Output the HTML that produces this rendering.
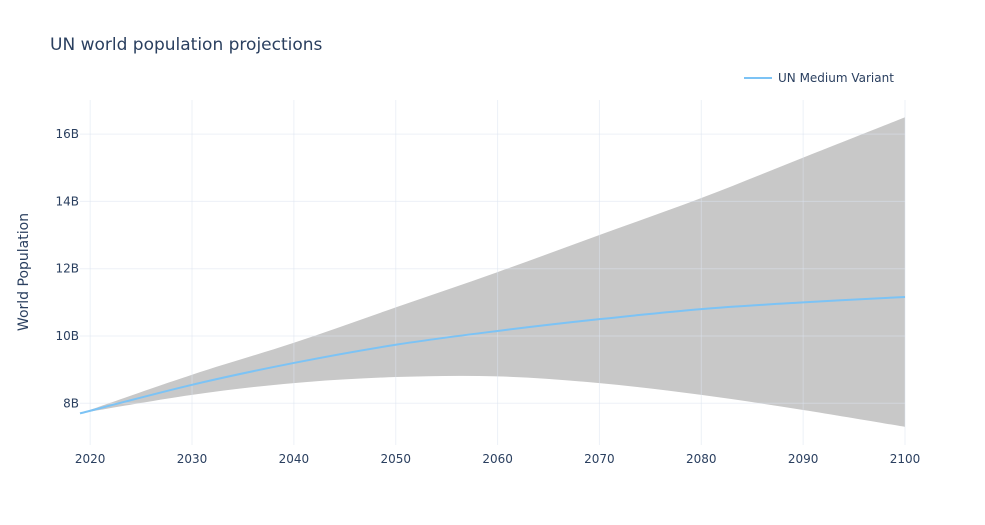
<!DOCTYPE html>
<html><head><meta charset="utf-8"><style>
body{margin:0;background:#fff;}
svg{display:block;font-family:"DejaVu Sans","Liberation Sans",sans-serif;}
</style></head><body>
<svg id="chart" width="985" height="525">
<text x="50" y="50" font-size="17" fill="#2a3f5f">UN world population projections</text>
<g id="band"></g>
<g id="grid"></g>
<g id="lines"></g>
<g id="axes"></g>
<text transform="translate(28,272) rotate(-90)" text-anchor="middle" font-size="14" fill="#2a3f5f">World Population</text>
<g>
<line x1="744" y1="78" x2="772" y2="78" stroke="#7cc3f5" stroke-width="2"/>
<text x="778" y="82" font-size="12" fill="#2a3f5f">UN Medium Variant</text>
</g>
</svg>
<script>
const years=[2019,2030,2040,2050,2060,2070,2080,2090,2100];
const median=[7.7,8.55,9.2,9.74,10.15,10.5,10.8,11.0,11.16];
const upper=[7.7,8.85,9.8,10.85,11.9,13.0,14.1,15.3,16.5];
const lower=[7.7,8.25,8.6,8.78,8.8,8.6,8.25,7.8,7.3];
const xTicks=[2020,2030,2040,2050,2060,2070,2080,2090,2100];
const yTicks=[8,10,12,14,16];
const yTickLabels=["8B","10B","12B","14B","16B"];
const NS="http://www.w3.org/2000/svg";
const X=v=>80+(v-2019)/(2100-2019)*825;
const Y=v=>403.3-(v-8)*33.65;
function mk(t,a,p){const e=document.createElementNS(NS,t);for(const k in a)e.setAttribute(k,a[k]);p.appendChild(e);return e;}
const grid=document.getElementById('grid'),axes=document.getElementById('axes');
xTicks.forEach(t=>{
 const l=mk('line',{x1:X(t),x2:X(t),y1:100,y2:445,stroke:'rgba(220,228,240,0.5)','stroke-width':1},grid);
 
 
 const tx=mk('text',{x:X(t),y:463,'text-anchor':'middle','font-size':12,fill:'#2a3f5f'},axes);
 tx.textContent=t;
 
 
});
yTicks.forEach((t,i)=>{
 const l=mk('line',{x1:80,x2:905,y1:Y(t),y2:Y(t),stroke:'rgba(220,228,240,0.5)','stroke-width':1},grid);
 
 
 const tx=mk('text',{x:79,y:Y(t)+4,'text-anchor':'end','font-size':12,fill:'#2a3f5f'},axes);
 tx.textContent=yTickLabels[i];
 
 
});
function smooth(pts){
 let s='';
 for(let i=0;i<pts.length-1;i++){
  const p0=pts[Math.max(0,i-1)],p1=pts[i],p2=pts[i+1],p3=pts[Math.min(pts.length-1,i+2)];
  const c1=[p1[0]+(p2[0]-p0[0])/6,p1[1]+(p2[1]-p0[1])/6],c2=[p2[0]-(p3[0]-p1[0])/6,p2[1]-(p3[1]-p1[1])/6];
  s+='C'+c1+' '+c2+' '+p2;
 }
 return s;
}
const up=years.map((y,i)=>[X(y),Y(upper[i])]);
const lo=years.map((y,i)=>[X(y),Y(lower[i])]).reverse();
let d='M'+up[0]+smooth(up)+'L'+lo[0]+smooth(lo)+'Z';
const band=mk('path',{d:d,fill:'#c8c8c8',stroke:'none'},document.getElementById('band'));


const pts=years.map((y,i)=>[X(y),Y(median[i])]);
const line=mk('path',{d:'M'+pts[0]+smooth(pts),fill:'none',stroke:'#7cc3f5','stroke-width':2},document.getElementById('lines'));


</script>
</body></html>
